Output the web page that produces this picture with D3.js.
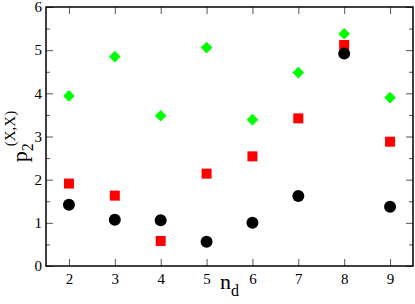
<!DOCTYPE html>
<html>
<head>
<meta charset="utf-8">
<title>p2 vs nd</title>
<script src="https://d3js.org/d3.v7.min.js"></script>
<style>
  body { margin: 0; background: #fff; }
  text { font-family: "Liberation Serif", "DejaVu Serif", serif; }
</style>
</head>
<body>
<div id="chart"></div>
<script>
// data
var nd = [2, 3, 4, 5, 6, 7, 8, 9];
var circles = [1.42, 1.07, 1.06, 0.56, 1.00, 1.62, 4.92, 1.37];
var squares = [1.91, 1.63, 0.58, 2.14, 2.54, 3.42, 5.12, 2.88];
var diamonds = [3.94, 4.85, 3.48, 5.06, 3.39, 4.48, 5.38, 3.90];
var xTicks = [2, 3, 4, 5, 6, 7, 8, 9];
var yTicks = [0, 1, 2, 3, 4, 5, 6];

var width = 415, height = 304;
var margin = {left: 46, right: 2, top: 7, bottom: 38};

var svg = d3.select("#chart").append("svg")
  .attr("width", width)
  .attr("height", height);

var x = d3.scaleLinear().domain([1.5, 9.5]).range([margin.left, width - margin.right]);
var y = d3.scaleLinear().domain([0, 6]).range([height - margin.bottom, margin.top]);

var minorY = d3.range(0.5, 6, 1);

// inward ticks on all four sides
function tickAxis(axis, g, ticks, size, labels) {
  g.call(axis.tickValues(ticks).tickSizeInner(size).tickSizeOuter(0)
    .tickFormat(labels ? d3.format("d") : ""));
  g.select(".domain").remove();
  g.selectAll(".tick line").attr("stroke", "#555").attr("stroke-width", 1);
  return g;
}

var gBottom = svg.append("g").attr("transform", "translate(0," + y(0) + ")");
tickAxis(d3.axisBottom(x), gBottom, xTicks, -7, true);
gBottom.selectAll(".tick text").attr("y", 7).attr("font-size", "15px").attr("fill", "#000");

var gTop = svg.append("g").attr("transform", "translate(0," + y(6) + ")");
tickAxis(d3.axisTop(x), gTop, xTicks, -7, false);

var gLeft = svg.append("g").attr("transform", "translate(" + x(1.5) + ",0)");
tickAxis(d3.axisLeft(y), gLeft, yTicks, -7, true);
gLeft.selectAll(".tick text").attr("x", -4).attr("font-size", "15px").attr("fill", "#000");
tickAxis(d3.axisLeft(y), svg.append("g").attr("transform", "translate(" + x(1.5) + ",0)"), minorY, -4, false);

var gRight = svg.append("g").attr("transform", "translate(" + x(9.5) + ",0)");
tickAxis(d3.axisRight(y), gRight, yTicks, -7, false);
tickAxis(d3.axisRight(y), svg.append("g").attr("transform", "translate(" + x(9.5) + ",0)"), minorY, -4, false);

// frame
svg.append("rect")
  .attr("x", x(1.5)).attr("y", y(6))
  .attr("width", x(9.5) - x(1.5)).attr("height", y(0) - y(6))
  .attr("fill", "none").attr("stroke", "#000").attr("stroke-width", 1.5);

// markers
svg.append("g").selectAll("path").data(diamonds).join("path")
  .attr("d", d3.symbol(d3.symbolSquare, 68))
  .attr("transform", function(d, i) { return "translate(" + x(nd[i]) + "," + y(d) + ") rotate(45)"; })
  .attr("fill", "#00ff00");

svg.append("g").selectAll("rect").data(squares).join("rect")
  .attr("x", function(d, i) { return x(nd[i]) - 5; })
  .attr("y", function(d) { return y(d) - 5; })
  .attr("width", 10).attr("height", 10)
  .attr("fill", "#ff0000");

svg.append("g").selectAll("circle").data(circles).join("circle")
  .attr("cx", function(d, i) { return x(nd[i]); })
  .attr("cy", function(d) { return y(d); })
  .attr("r", 6)
  .attr("fill", "#000");

// axis titles
var xl = svg.append("text")
  .attr("x", x(5.5)).attr("y", 289)
  .attr("text-anchor", "middle").attr("font-size", "22px");
xl.append("tspan").text("n");
xl.append("tspan").attr("dy", 7).attr("font-size", "16px").text("d");

var yl = svg.append("text")
  .attr("transform", "translate(27," + ((y(0) + y(6)) / 2) + ") rotate(-90)")
  .attr("text-anchor", "middle").attr("font-size", "22px");
yl.append("tspan").text("p");
yl.append("tspan").attr("dy", 6).attr("font-size", "16px").text("2");
yl.append("tspan").attr("dx", -3).attr("dy", -18).attr("font-size", "15px").text("(X,X)");
</script>
</body>
</html>
